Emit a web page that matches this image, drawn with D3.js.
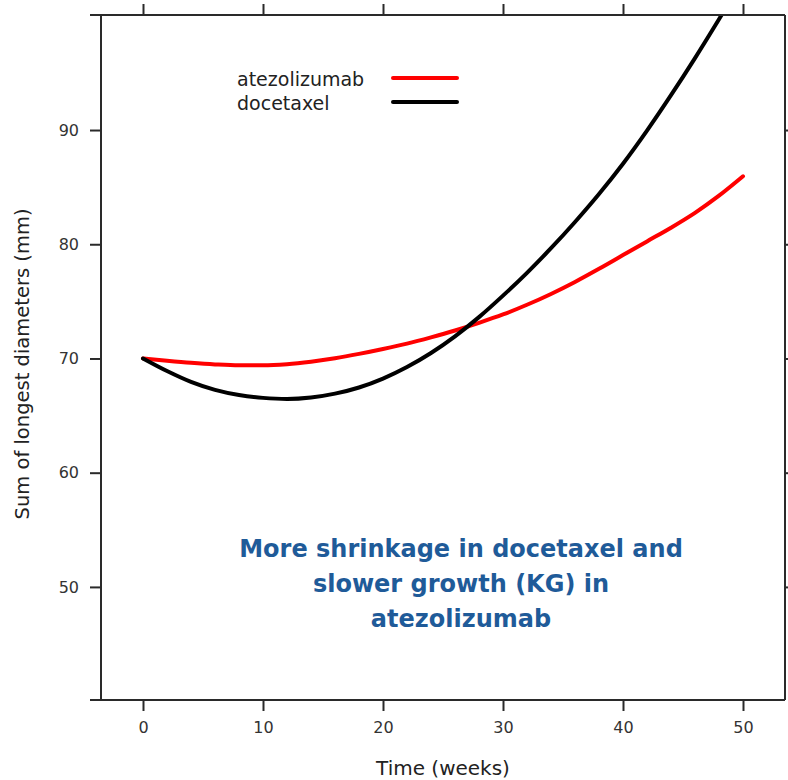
<!DOCTYPE html>
<html>
<head>
<meta charset="utf-8">
<script src="https://cdn.jsdelivr.net/npm/d3@7"></script>
<style>
  html, body { margin: 0; padding: 0; background: #fff; }
  svg { display: block; }
</style>
</head>
<body>
<div id="chart"></div>
<script>
// ---- data ----
const weeks = [0, 2, 4, 6, 8, 10, 12, 14, 16, 18, 20, 22, 24, 26, 28, 30, 32, 34, 36, 38, 40, 42, 44, 46, 48, 50];
const atezolizumab = [70.0, 69.8, 69.62, 69.48, 69.4, 69.4, 69.5, 69.72, 70.02, 70.4, 70.83, 71.3, 71.85, 72.45, 73.12, 73.85, 74.7, 75.65, 76.7, 77.85, 79.05, 80.25, 81.45, 82.75, 84.25, 85.95];
const docetaxel = [70.0, 68.9, 67.95, 67.25, 66.8, 66.55, 66.45, 66.58, 66.92, 67.46, 68.24, 69.25, 70.48, 71.94, 73.62, 75.5, 77.5, 79.65, 81.95, 84.4, 87.05, 89.95, 93.05, 96.3, 99.7, 103.2];
const seriesNames = ["atezolizumab", "docetaxel"];
const seriesColors = ["#ff0000", "#000000"];
const xTicks = [0, 10, 20, 30, 40, 50];
const yTicks = [50, 60, 70, 80, 90];
const xDomain = [-3.5, 53.5];
const yDomain = [40.1, 100.07];
const xTitle = "Time (weeks)";
const yTitle = "Sum of longest diameters (mm)";
const noteLines = ["More shrinkage in docetaxel and", "slower growth (KG) in", "atezolizumab"];

// ---- layout ----
const W = 788, H = 780;
const L = 101, R = 785, T = 15, B = 700;
const tickLen = 11;
const axisColor = "#2a2a2a";
const font = "'DejaVu Sans', Verdana, sans-serif";

const svg = d3.select("#chart").append("svg").attr("width", W).attr("height", H);

const x = d3.scaleLinear().domain(xDomain).range([L, R]);
const y = d3.scaleLinear().domain(yDomain).range([B, T]);

// clip
svg.append("defs").append("clipPath").attr("id", "plotclip")
  .append("rect").attr("x", L).attr("y", T).attr("width", R - L).attr("height", B - T);

// curves
const lineGen = d3.line().x(d => x(d[0])).y(d => y(d[1])).curve(d3.curveMonotoneX);
const series = [atezolizumab, docetaxel];
const gCurves = svg.append("g").attr("clip-path", "url(#plotclip)");
series.forEach((vals, i) => {
  gCurves.append("path")
    .datum(weeks.map((w, j) => [w, vals[j]]))
    .attr("d", lineGen)
    .attr("fill", "none")
    .attr("stroke", seriesColors[i])
    .attr("stroke-width", 4)
    .attr("stroke-linejoin", "round")
    .attr("stroke-linecap", "round");
});

// axes (ticks on all four sides, outward)
const bottomAxis = d3.axisBottom(x).tickValues(xTicks).tickSize(tickLen).tickSizeOuter(0).tickPadding(11).tickFormat(d3.format("d"));
const topAxis = d3.axisTop(x).tickValues(xTicks).tickSize(tickLen).tickSizeOuter(0).tickFormat("");
const leftAxis = d3.axisLeft(y).tickValues(yTicks).tickSize(tickLen).tickSizeOuter(0).tickPadding(11).tickFormat(d3.format("d"));
const rightAxis = d3.axisRight(y).tickValues(yTicks).tickSize(tickLen).tickSizeOuter(0).tickFormat("");

function styleAxis(g) {
  g.select(".domain").remove();
  g.selectAll(".tick line").attr("stroke", axisColor).attr("stroke-width", 2);
  g.selectAll(".tick text").attr("fill", "#333").style("font-family", font).style("font-size", "16px");
}
svg.append("g").attr("transform", `translate(0,${B})`).call(bottomAxis).call(styleAxis);
svg.append("g").attr("transform", `translate(0,${T})`).call(topAxis).call(styleAxis);
svg.append("g").attr("transform", `translate(${L},0)`).call(leftAxis).call(styleAxis);
svg.append("g").attr("transform", `translate(${R},0)`).call(rightAxis).call(styleAxis);

// frame
const frame = svg.append("g").attr("stroke", axisColor).attr("stroke-width", 2).attr("fill", "none");
frame.append("line").attr("x1", L - tickLen).attr("x2", R).attr("y1", T).attr("y2", T);
frame.append("line").attr("x1", L - tickLen).attr("x2", R).attr("y1", B).attr("y2", B);
frame.append("line").attr("x1", L).attr("x2", L).attr("y1", T).attr("y2", B);
frame.append("line").attr("x1", R).attr("x2", R).attr("y1", T).attr("y2", B);

// axis titles
svg.append("text").attr("x", 443).attr("y", 775).attr("text-anchor", "middle")
  .style("font-family", font).style("font-size", "20px").attr("fill", "#222").text(xTitle);
svg.append("text").attr("transform", "translate(29,364) rotate(-90)").attr("text-anchor", "middle")
  .style("font-family", font).style("font-size", "19.5px").attr("fill", "#222").text(yTitle);

// legend
const legend = svg.append("g");
seriesNames.forEach((name, i) => {
  const ly = 78 + i * 24;
  legend.append("text").attr("x", 237).attr("y", ly + 8)
    .style("font-family", font).style("font-size", "19px").attr("fill", "#222").text(name);
  legend.append("line").attr("x1", 393).attr("x2", 457).attr("y1", ly).attr("y2", ly)
    .attr("stroke", seriesColors[i]).attr("stroke-width", 4).attr("stroke-linecap", "round");
});

// annotation
const note = svg.append("text").attr("text-anchor", "middle")
  .style("font-family", font).style("font-size", "24px").style("font-weight", "bold").attr("fill", "#1f5b99");
noteLines.forEach((t, i) => {
  note.append("tspan").attr("x", 461).attr("y", 557 + i * 35).text(t);
});
</script>
</body>
</html>
